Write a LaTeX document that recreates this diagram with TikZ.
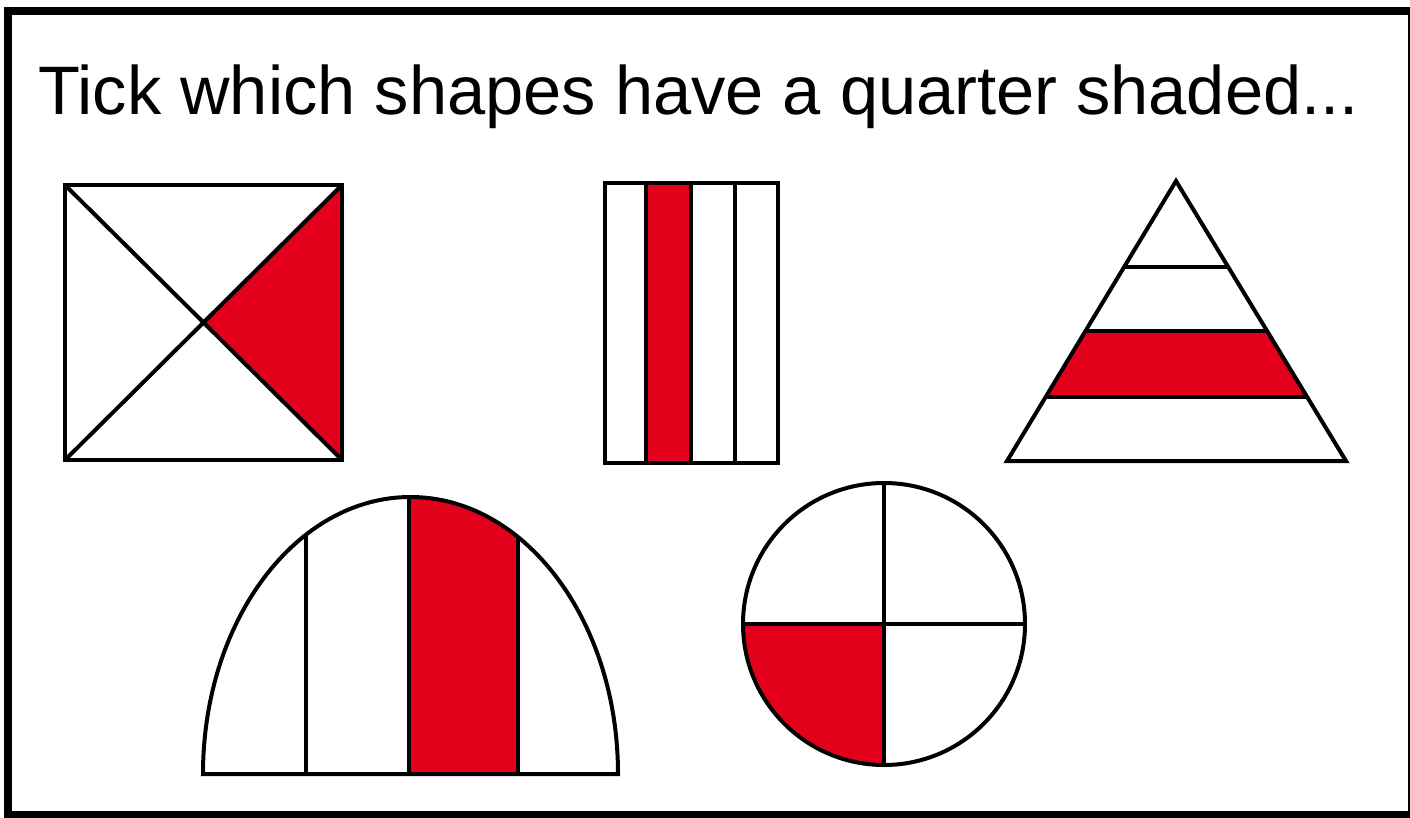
\documentclass[tikz,border=0pt]{standalone}
\usepackage{fontspec}
\setmainfont{Liberation Sans}
\usepackage{tikz}
\usetikzlibrary{calc}
\definecolor{quarterred}{HTML}{E2001A}

\begin{document}
\begin{tikzpicture}[
  x=1pt,y=-1pt,
  every node/.style={font=\fontsize{68.6}{76}\selectfont,inner sep=0pt},
  frame/.style={draw,line width=8pt},
  outline/.style={draw,line width=4pt,line join=miter},
  part/.style={fill=quarterred}]

\useasboundingbox (0,0) rectangle (1410,818);
\draw[frame] (8,11) rectangle (1412,815);

\node[anchor=base west] (title) at (38,115) {Tick which shapes have a quarter shaded...};

% square cut by its diagonals
\coordinate (sqa) at (65,185);
\coordinate (sqb) at (342,185);
\coordinate (sqc) at (342,460);
\coordinate (sqd) at (65,460);
\coordinate (sqm) at ($(sqa)!0.5!(sqc)$);
\fill[part] (sqm) -- (sqb) -- (sqc) -- cycle;
\draw[outline] (sqa) rectangle (sqc);
\draw[outline] (sqa) -- (sqc) (sqb) -- (sqd);

% rectangle in four strips
\fill[part] (646,183) rectangle (691,463);
\draw[outline] (605,183) rectangle (778,463);
\foreach \sx in {646,691,735}
  \draw[outline] (\sx,183) -- (\sx,463);

% triangle in four bands
\coordinate (apex) at (1176,181);
\coordinate (tl) at (1007,461);
\coordinate (tr) at (1346,461);
\fill[part] ($(apex)!0.536!(tl)$) -- ($(apex)!0.536!(tr)$)
  -- ($(apex)!0.771!(tr)$) -- ($(apex)!0.771!(tl)$) -- cycle;
\draw[outline] (apex) -- (tr) -- (tl) -- cycle;
\foreach \t in {0.307,0.536,0.771}
  \draw[outline] ($(apex)!\t!(tl)$) -- ($(apex)!\t!(tr)$);

% dome in four strips
\begin{scope}
  \clip (203,774) arc[start angle=180,end angle=360,x radius=207.5,y radius=277] -- cycle;
  \fill[part] (409,480) rectangle (518,774);
  \foreach \sx in {306,409,518}
    \draw[outline] (\sx,480) -- (\sx,774);
\end{scope}
\draw[outline] (203,774) arc[start angle=180,end angle=360,x radius=207.5,y radius=277] -- cycle;

% circle in quarters
\coordinate (cc) at (884,624);
\fill[part] (cc) -- ($(cc)+(-141,0)$) arc[start angle=180,end angle=90,radius=141] -- cycle;
\draw[outline] (cc) circle[radius=141];
\draw[outline] ($(cc)+(-141,0)$) -- ($(cc)+(141,0)$)
  ($(cc)+(0,-141)$) -- ($(cc)+(0,141)$);
\end{tikzpicture}
\end{document}
